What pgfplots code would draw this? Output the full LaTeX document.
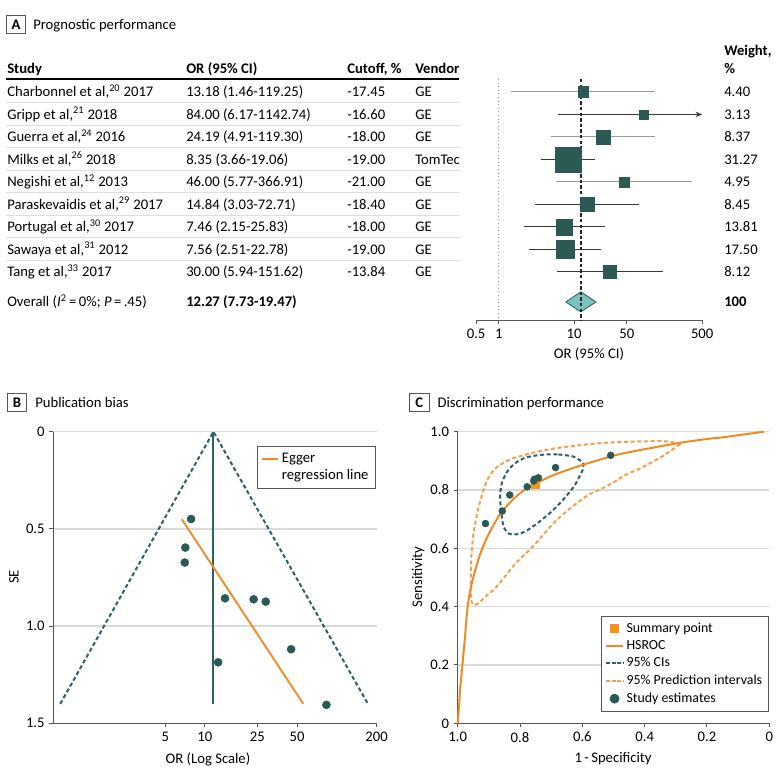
\documentclass[border=0pt]{standalone}
\usepackage{fontspec}
\setmainfont{Carlito}
\usepackage{pgfplots}
\pgfplotsset{compat=1.18}
\usepackage{pgfplotstable}
\usetikzlibrary{arrows.meta}

\definecolor{sq}{HTML}{2B5954}
\definecolor{dia}{HTML}{7CC2BE}
\definecolor{tealln}{HTML}{2E5F6B}
\definecolor{org}{HTML}{F08A24}
\definecolor{orgl}{HTML}{F2A04C}
\definecolor{sumsq}{HTML}{F7941D}
\definecolor{gridc}{HTML}{DADADA}
\definecolor{sepc}{HTML}{DEDEDE}
\definecolor{cigray}{HTML}{9C9C9C}
\definecolor{cidark}{HTML}{3A3A3A}
\definecolor{axisc}{HTML}{555555}

\newcommand\bodysize{\fontsize{11}{13}\selectfont}
\newcommand\legsize{\fontsize{10.4}{12.5}\selectfont}

\pgfplotstableread{
or lo hi y ms
13.18 1.46 119.25 -91.9 3.9
84.00 6.17 1142.74 -114.4 3.4
24.19 4.91 119.30 -136.9 5.3
8.35 3.66 19.06 -159.4 9.4
46.00 5.77 366.91 -181.9 3.7
14.84 3.03 72.71 -204.4 5.1
7.46 2.15 25.83 -226.9 6.1
7.56 2.51 22.78 -249.4 6.9
30.00 5.94 151.62 -271.9 4.8
}\foresttab

\begin{document}
\begin{tikzpicture}[x=0.75pt,y=-0.75pt,font=\bodysize,
  tx/.style={anchor=base west,inner sep=0pt},
  lbl/.style={draw=axisc,line width=0.75pt,minimum width=14.6pt,minimum height=13.6pt,inner sep=0pt,font=\bodysize\bfseries}]
\path[use as bounding box] (0,0) rectangle (780,778);

% ---------------- Panel A ----------------
\node[lbl] at (16,24.5) {A};
\node[tx] at (33,29.3) {Prognostic performance};

\node[tx,font=\bodysize\bfseries] at (7,73.3) {Study};
\node[tx,font=\bodysize\bfseries] at (186,73.3) {OR (95\% CI)};
\node[tx,font=\bodysize\bfseries] at (347,73.3) {Cutoff, \%};
\node[tx,font=\bodysize\bfseries] at (415,73.3) {Vendor};
\node[tx,font=\bodysize\bfseries] at (724,55.5) {Weight,};
\node[tx,font=\bodysize\bfseries] at (724,73.3) {\%};
\draw[line width=1.4pt] (6,79) -- (459,79);
\foreach \yy in {102.6,125.1,147.6,170.1,192.6,215.1,237.6,260.1}
  \draw[sepc,line width=0.75pt] (6,\yy) -- (460,\yy);

\node[tx] at (7,96.7) {Charbonnel et al,\textsuperscript{20} 2017};
\node[tx] at (186,96.7) {13.18 (1.46-119.25)};
\node[tx] at (347,96.7) {-17.45};
\node[tx] at (415,96.7) {GE};
\node[tx] at (724,96.7) {4.40};

\node[tx] at (7,119.2) {Gripp et al,\textsuperscript{21} 2018};
\node[tx] at (186,119.2) {84.00 (6.17-1142.74)};
\node[tx] at (347,119.2) {-16.60};
\node[tx] at (415,119.2) {GE};
\node[tx] at (724,119.2) {3.13};

\node[tx] at (7,141.7) {Guerra et al,\textsuperscript{24} 2016};
\node[tx] at (186,141.7) {24.19 (4.91-119.30)};
\node[tx] at (347,141.7) {-18.00};
\node[tx] at (415,141.7) {GE};
\node[tx] at (724,141.7) {8.37};

\node[tx] at (7,164.2) {Milks et al,\textsuperscript{26} 2018};
\node[tx] at (186,164.2) {8.35 (3.66-19.06)};
\node[tx] at (347,164.2) {-19.00};
\node[tx] at (415,164.2) {TomTec};
\node[tx] at (724,164.2) {31.27};

\node[tx] at (7,186.7) {Negishi et al,\textsuperscript{12} 2013};
\node[tx] at (186,186.7) {46.00 (5.77-366.91)};
\node[tx] at (347,186.7) {-21.00};
\node[tx] at (415,186.7) {GE};
\node[tx] at (724,186.7) {4.95};

\node[tx] at (7,209.2) {Paraskevaidis et al,\textsuperscript{29} 2017};
\node[tx] at (186,209.2) {14.84 (3.03-72.71)};
\node[tx] at (347,209.2) {-18.40};
\node[tx] at (415,209.2) {GE};
\node[tx] at (724,209.2) {8.45};

\node[tx] at (7,231.7) {Portugal et al,\textsuperscript{30} 2017};
\node[tx] at (186,231.7) {7.46 (2.15-25.83)};
\node[tx] at (347,231.7) {-18.00};
\node[tx] at (415,231.7) {GE};
\node[tx] at (724,231.7) {13.81};

\node[tx] at (7,254.2) {Sawaya et al,\textsuperscript{31} 2012};
\node[tx] at (186,254.2) {7.56 (2.51-22.78)};
\node[tx] at (347,254.2) {-19.00};
\node[tx] at (415,254.2) {GE};
\node[tx] at (724,254.2) {17.50};

\node[tx] at (7,276.7) {Tang et al,\textsuperscript{33} 2017};
\node[tx] at (186,276.7) {30.00 (5.94-151.62)};
\node[tx] at (347,276.7) {-13.84};
\node[tx] at (415,276.7) {GE};
\node[tx] at (724,276.7) {8.12};

\node[tx] at (7,306.7) {Overall (\textit{I}\textsuperscript{2}\,=\,0\%; \textit{P}\,=\,.45)};
\node[tx,font=\bodysize\bfseries] at (186,306.7) {12.27 (7.73-19.47)};
\node[tx,font=\bodysize\bfseries] at (724,306.7) {100};

\begin{axis}[
  at={(357.075pt,-240pt)}, anchor=south west, scale only axis,
  width=169.575pt, height=180.75pt,
  xmode=log, xmin=0.5, xmax=500, ymin=-320, ymax=-79,
  axis x line*=bottom, axis y line=none,
  axis line style={-,draw=axisc,line width=0.75pt},
  xtick={0.5,1,10,50,500}, xticklabels={0.5,1,10,50,500}, minor xtick={},
  tick align=outside, major tick length=3pt,
  tick style={draw=axisc,line width=0.75pt},
  xticklabel style={font=\bodysize},
  /pgf/number format/assume math mode=true,
  clip=false]
\addplot[cigray,dotted,line width=0.7pt] coordinates {(1,-79) (1,-320)};
\addplot[cigray,line width=0.75pt] coordinates {(1.46,-91.9) (119.25,-91.9)};
\addplot[cidark,line width=0.75pt,-{Stealth[length=5pt,width=4pt]}] coordinates {(6.17,-114.4) (500,-114.4)};
\addplot[cigray,line width=0.75pt] coordinates {(4.91,-136.9) (119.30,-136.9)};
\addplot[cidark,line width=0.75pt] coordinates {(3.66,-159.4) (19.06,-159.4)};
\addplot[cigray,line width=0.75pt] coordinates {(5.77,-181.9) (366.91,-181.9)};
\addplot[cidark,line width=0.75pt] coordinates {(3.03,-204.4) (72.71,-204.4)};
\addplot[cidark,line width=0.75pt] coordinates {(2.15,-226.9) (25.83,-226.9)};
\addplot[cidark,line width=0.75pt] coordinates {(2.51,-249.4) (22.78,-249.4)};
\addplot[cidark,line width=0.75pt] coordinates {(5.94,-271.9) (151.62,-271.9)};
\addplot[scatter,only marks,mark=square*,
  scatter/use mapped color={draw=sq,fill=sq},
  visualization depends on={\thisrow{ms} \as \perms},
  scatter/@pre marker code/.append style={/tikz/mark size=\perms}]
  table[x=or,y=y] {\foresttab};
\addplot[fill=dia,draw=sq,line width=0.6pt] coordinates {(7.73,-301.9) (12.27,-291.9) (19.47,-301.9) (12.27,-311.9) (7.73,-301.9)};
\addplot[black!85,line width=1.2pt,dash pattern=on 2.6pt off 1.6pt] coordinates {(12.27,-79) (12.27,-320)};
\end{axis}
\node at (589,354) {OR (95\% CI)};

% ---------------- Panel B ----------------
\node[lbl] at (17,402.7) {B};
\node[tx] at (35,407.3) {Publication bias};

\begin{axis}[
  at={(39.975pt,-542.475pt)}, anchor=south west, scale only axis,
  width=242.55pt, height=218.7pt,
  xmode=log, xmin=0.709, xmax=200.5, ymin=-1.5, ymax=0,
  axis lines=left, axis line style={-,draw=axisc,line width=0.75pt},
  xtick={5,10,25,50,200}, xticklabels={5,10,25,50,200}, minor xtick={},
  ytick={-1.5,-1,-0.5,0}, yticklabels={1.5,1.0,0.5,0},
  ymajorgrids, grid style={draw=gridc,line width=1pt},
  tick align=outside, major tick length=3pt,
  tick style={draw=axisc,line width=0.75pt},
  tick label style={font=\bodysize},
  /pgf/number format/assume math mode=true,
  legend style={at={(0.997,0.952)},anchor=north east,draw=axisc,line width=0.75pt,
    font=\bodysize,inner xsep=3pt,inner ysep=3pt,row sep=0pt,
    cells={anchor=west}},
  legend image code/.code={\draw[#1] (0cm,0cm) -- (0.42cm,0cm);},
  clip=false]
\addplot[tealln,line width=1.5pt,dash pattern=on 3pt off 2pt,forget plot] coordinates {(0.8,-1.4) (11.6,0) (172,-1.4)};
\addplot[tealln,line width=1.5pt,forget plot] coordinates {(11.6,0) (11.6,-1.4)};
\addplot[org,line width=1.4pt] coordinates {(6.67,-0.45) (55.7,-1.40)};
\addlegendentry{Egger}
\addlegendimage{empty legend}
\addlegendentry{regression line}
\addplot[only marks,mark=*,mark size=3pt,sq,forget plot] coordinates {
 (7.85,-0.449) (7.1,-0.596) (7.03,-0.673) (14.2,-0.857) (23.4,-0.862)
 (28.9,-0.874) (45.0,-1.119) (12.6,-1.186) (83.3,-1.405)};
\end{axis}
\node[rotate=90] at (14,577) {SE};
\node at (208,759) {OR (Log Scale)};

% ---------------- Panel C ----------------
\node[lbl] at (419.3,402.7) {C};
\node[tx] at (437.3,407.3) {Discrimination performance};

\begin{axis}[
  at={(343.275pt,-542.475pt)}, anchor=south west, scale only axis,
  width=233.7pt, height=218.7pt,
  xmin=-1, xmax=0, ymin=0, ymax=1,
  axis lines=left, axis line style={-,draw=axisc,line width=0.75pt},
  xtick={-1,-0.8,-0.6,-0.4,-0.2,0}, xticklabels={1.0,0.8,0.6,0.4,0.2,0},
  ytick={0,0.2,0.4,0.6,0.8,1}, yticklabels={0,0.2,0.4,0.6,0.8,1.0},
  ymajorgrids, grid style={draw=gridc,line width=1pt},
  tick align=outside, major tick length=3pt,
  tick style={draw=axisc,line width=0.75pt},
  tick label style={font=\bodysize},
  /pgf/number format/assume math mode=true,
  legend style={at={(1,0.04)},anchor=south east,draw=axisc,line width=0.75pt,
    font=\legsize,inner xsep=3pt,inner ysep=3pt,row sep=0.6pt,
    cells={anchor=west}},
  legend image code/.code={\draw[mark repeat=2,mark phase=2,#1] plot coordinates {(0cm,0cm) (0.22cm,0cm) (0.44cm,0cm)};},
  clip=false]
\addlegendimage{only marks,mark=square*,mark size=3.3pt,sumsq}
\addlegendentry{Summary point}
\addlegendimage{org,line width=1.4pt}
\addlegendentry{HSROC}
\addlegendimage{tealln,line width=1.4pt,dash pattern=on 2.5pt off 1.6pt}
\addlegendentry{95\% CIs}
\addlegendimage{orgl,line width=1.4pt,dash pattern=on 2.5pt off 1.6pt}
\addlegendentry{95\% Prediction intervals}
\addlegendimage{only marks,mark=*,mark size=3.3pt,sq}
\addlegendentry{Study estimates}
% prediction region
\addplot[orgl,line width=1.5pt,dash pattern=on 3pt off 2pt,smooth,tension=0.45,forget plot] coordinates {
 (-0.283,0.960) (-0.33,0.967) (-0.40,0.967) (-0.47,0.965) (-0.54,0.961) (-0.58,0.957)
 (-0.63,0.951) (-0.688,0.943) (-0.75,0.930) (-0.816,0.911) (-0.85,0.895) (-0.88,0.873)
 (-0.90,0.845) (-0.912,0.817) (-0.925,0.772) (-0.934,0.737) (-0.943,0.690) (-0.950,0.646)
 (-0.955,0.590) (-0.957,0.543) (-0.958,0.480) (-0.958,0.440) (-0.955,0.415) (-0.945,0.405)
 (-0.928,0.417) (-0.905,0.440) (-0.88,0.463) (-0.845,0.508) (-0.811,0.552) (-0.76,0.605)
 (-0.688,0.691) (-0.63,0.745) (-0.581,0.783) (-0.543,0.802) (-0.50,0.826) (-0.463,0.851)
 (-0.415,0.874) (-0.36,0.905) (-0.32,0.932) (-0.283,0.960)};
% CI region
\addplot[tealln,line width=1.5pt,dash pattern=on 3pt off 2pt,smooth,tension=0.5,forget plot] coordinates {
 (-0.677,0.922) (-0.630,0.915) (-0.600,0.895) (-0.597,0.875) (-0.610,0.845) (-0.624,0.817)
 (-0.655,0.775) (-0.688,0.737) (-0.722,0.705) (-0.752,0.680) (-0.785,0.657) (-0.811,0.648)
 (-0.835,0.650) (-0.852,0.672) (-0.859,0.714) (-0.864,0.777) (-0.858,0.825) (-0.840,0.865)
 (-0.816,0.892) (-0.785,0.910) (-0.752,0.918) (-0.715,0.922) (-0.677,0.922)};
% HSROC
\addplot[org,line width=1.5pt,smooth,tension=0.5,forget plot] coordinates {
 (-1.000,0.000) (-0.998,0.030) (-0.995,0.070) (-0.992,0.120) (-0.985,0.200) (-0.978,0.280)
 (-0.968,0.400) (-0.955,0.480) (-0.934,0.560) (-0.921,0.600) (-0.900,0.650) (-0.877,0.695)
 (-0.857,0.728) (-0.820,0.770) (-0.777,0.808) (-0.750,0.822) (-0.700,0.848) (-0.650,0.868)
 (-0.600,0.886) (-0.550,0.902) (-0.510,0.915) (-0.463,0.927) (-0.400,0.940) (-0.286,0.962)
 (-0.200,0.975) (-0.148,0.981) (-0.100,0.988) (-0.017,1.000)};
% summary point
\addplot[only marks,mark=square*,mark size=3pt,sumsq,forget plot] coordinates {(-0.750,0.820)};
% study estimates
\addplot[only marks,mark=*,mark size=2.6pt,sq,forget plot] coordinates {
 (-0.911,0.685) (-0.857,0.728) (-0.833,0.783) (-0.777,0.811) (-0.756,0.831)
 (-0.754,0.837) (-0.741,0.842) (-0.686,0.877) (-0.509,0.919)};
\end{axis}
\node[rotate=90] at (418.3,577) {Sensitivity};
\node at (613,759) {1\,-\,Specificity};
\end{tikzpicture}
\end{document}
